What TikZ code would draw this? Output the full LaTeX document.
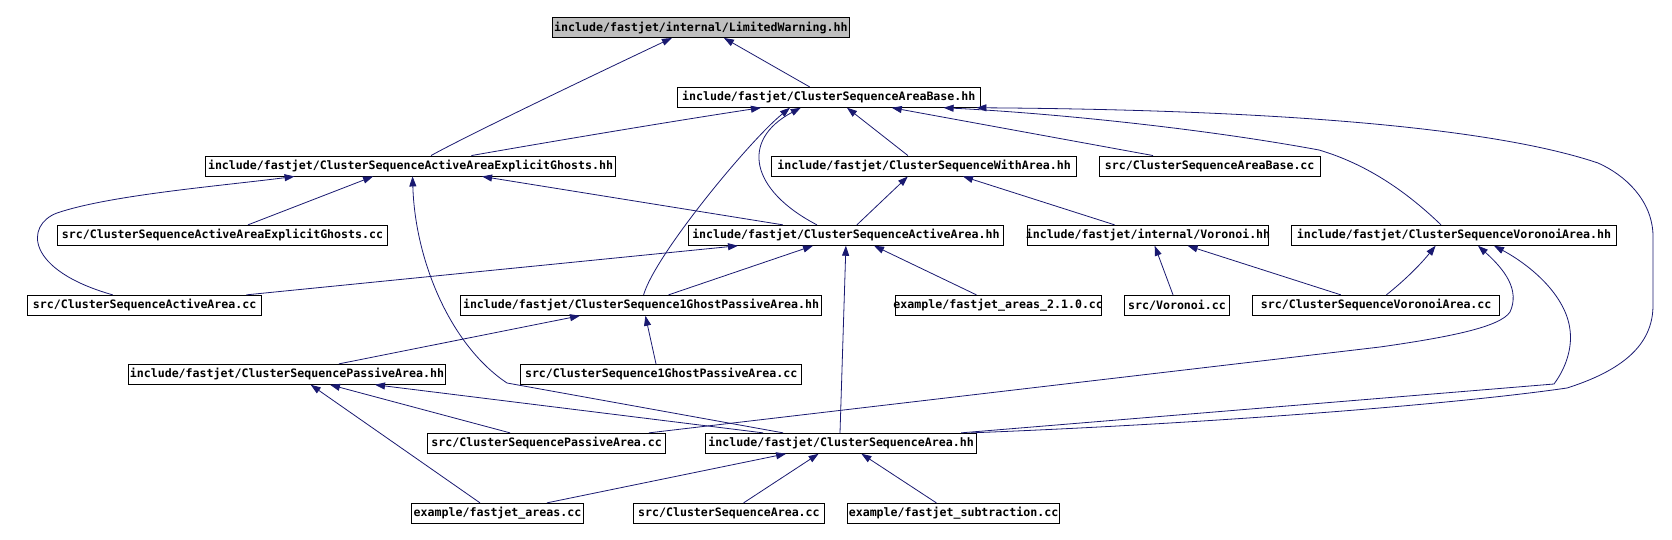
\documentclass[tikz,border=0pt]{standalone}
\usepackage{fontspec}
\newfontfamily\dmono{DejaVu Sans Mono}
\usetikzlibrary{arrows.meta}
\definecolor{edgec}{RGB}{25,25,112}
\definecolor{hlgray}{RGB}{191,191,191}
\newcommand{\overrun}[1]{\makebox[0pt]{#1}}
\begin{document}
\begin{tikzpicture}[x=1pt,y=-1pt,
  file/.style={draw=black, line width=0.9pt, fill=white, inner sep=0pt, minimum height=20pt,
    font=\dmono\bfseries\fontsize{11.6}{13}\selectfont, text=black},
  dep/.style={draw=edgec, line width=0.8pt, -{Triangle[length=10pt,width=7pt]}}]
\useasboundingbox (0,0) rectangle (1672,540);

% row 0/1
\node[file, fill=hlgray, minimum width=296.8pt] (lw) at (700.9,27.5) {include/fastjet/internal/LimitedWarning.hh};
\node[file, minimum width=302.5pt] (ab) at (828.75,97.3) {include/fastjet/ClusterSequenceAreaBase.hh};
% row 2
\node[file, minimum width=410.3pt] (eg) at (410.55,166) {\overrun{include/fastjet/ClusterSequenceActiveAreaExplicitGhosts.hh}};
\node[file, minimum width=305.4pt] (wa) at (924.1,166) {include/fastjet/ClusterSequenceWithArea.hh};
\node[file, minimum width=221.4pt] (abcc) at (1209.7,166) {src/ClusterSequenceAreaBase.cc};
% row 3
\node[file, minimum width=330pt] (egcc) at (222.5,235.3) {src/ClusterSequenceActiveAreaExplicitGhosts.cc};
\node[file, minimum width=315.4pt] (aa) at (845.9,235.3) {include/fastjet/ClusterSequenceActiveArea.hh};
\node[file, minimum width=241pt] (vor) at (1148,235.3) {\overrun{include/fastjet/internal/Voronoi.hh}};
\node[file, minimum width=325.1pt] (va) at (1454,235.3) {include/fastjet/ClusterSequenceVoronoiArea.hh};
% row 4
\node[file, minimum width=234.3pt] (aacc) at (144.65,305.3) {src/ClusterSequenceActiveArea.cc};
\node[file, minimum width=361.4pt] (gp) at (641.1,305.3) {include/fastjet/ClusterSequence1GhostPassiveArea.hh};
\node[file, minimum width=205.6pt] (a210) at (998.2,305.3) {\overrun{example/fastjet\_areas\_2.1.0.cc}};
\node[file, minimum width=105.1pt] (vorcc) at (1177,305.3) {src/Voronoi.cc};
\node[file, minimum width=247.4pt] (vacc) at (1376.2,305.3) {src/ClusterSequenceVoronoiArea.cc};
% row 5
\node[file, minimum width=317.5pt] (pa) at (287,374.3) {include/fastjet/ClusterSequencePassiveArea.hh};
\node[file, minimum width=281pt] (gpcc) at (661.2,374.3) {src/ClusterSequence1GhostPassiveArea.cc};
% row 6
\node[file, minimum width=238pt] (pacc) at (546.7,443.3) {src/ClusterSequencePassiveArea.cc};
\node[file, minimum width=271.4pt] (csa) at (841.1,443.3) {include/fastjet/ClusterSequenceArea.hh};
% row 7
\node[file, minimum width=172.2pt] (arcc) at (497.5,513.3) {example/fastjet\_areas.cc};
\node[file, minimum width=191.4pt] (csacc) at (728.9,513.3) {src/ClusterSequenceArea.cc};
\node[file, minimum width=212.1pt] (sub) at (953.55,513.3) {example/fastjet\_subtraction.cc};

% edges to LimitedWarning
\draw[dep] ([xshift=20.5pt]eg.north) .. controls (470,134) and (600,72) .. ([xshift=-29pt]lw.south);
\draw[dep] ([xshift=-19.2pt]ab.north) -- ([xshift=23pt]lw.south);
% edges to AreaBase.hh
\draw[dep] ([xshift=60.9pt]eg.north) .. controls (560,140) and (680,120) .. ([xshift=-67.8pt]ab.south);
\draw[dep] ([xshift=2.5pt]gp.north) .. controls (655,255) and (750,140) .. ([xshift=-38.75pt]ab.south);
\draw[dep] ([xshift=-29pt]aa.north) .. controls (750,190) and (740,140) .. ([xshift=-28pt]ab.south);
\draw[dep] ([xshift=-16.2pt]wa.north) -- ([xshift=18.25pt]ab.south);
\draw[dep] ([xshift=-56.7pt]abcc.north) -- ([xshift=63pt]ab.south);
\draw[dep] ([xshift=-13pt]va.north) .. controls (1410,195) and (1370,165) .. (1319,150)
  .. controls (1200,128) and (1050,113) .. ([xshift=114.85pt]ab.south);
\draw[dep] ([xshift=130pt]csa.north) .. controls (1200,424) and (1450,405) .. (1567,388)
  .. controls (1630,368) and (1653,340) .. (1653,305) -- (1653,235)
  .. controls (1652,200) and (1625,175) .. (1598,163)
  .. controls (1500,130) and (1300,110) .. ([xshift=-4pt]ab.south east);
% edges to ExplicitGhosts.hh
\draw[dep] ([xshift=-63pt]aa.north) -- ([xshift=71.5pt]eg.south);
\draw[dep] ([xshift=25.5pt]egcc.north) -- ([xshift=-37.5pt]eg.south);
\draw[dep] ([xshift=-32pt]aacc.north) .. controls (25,270) and (25,225) .. (57,213)
  .. controls (110,195) and (220,186) .. ([xshift=-116pt]eg.south);
\draw[dep] ([xshift=-58pt]csa.north) -- (507,383) .. controls (450,345) and (415,260) .. ([xshift=2pt]eg.south);
% edges to WithArea.hh
\draw[dep] ([xshift=11pt]aa.north) -- ([xshift=-16.2pt]wa.south);
\draw[dep] ([xshift=-33.4pt]vor.north) -- ([xshift=38.9pt]wa.south);
% edges to ActiveArea.hh
\draw[dep] ([xshift=101.75pt]aacc.north) -- ([xshift=-107.9pt]aa.south);
\draw[dep] ([xshift=27.5pt]gp.north) -- ([xshift=-32.9pt]aa.south);
\draw[dep] ([xshift=-21.8pt]a210.north) -- ([xshift=28.1pt]aa.south);
\draw[dep] ([xshift=-1.1pt]csa.north) -- (aa.south);
% edges to Voronoi.hh
\draw[dep] ([xshift=-4pt]vorcc.north) -- ([xshift=6.7pt]vor.south);
\draw[dep] ([xshift=-35.4pt]vacc.north) -- ([xshift=39.6pt]vor.south);
% edges to VoronoiArea.hh
\draw[dep] ([xshift=10.2pt]vacc.north) .. controls (1405,280) and (1420,265) .. ([xshift=-18.4pt]va.south);
\draw[dep] ([xshift=102.3pt]pacc.north) -- (1380,347) .. controls (1450,337) and (1500,327) .. (1510,312)
  .. controls (1520,290) and (1505,270) .. ([xshift=24pt]va.south);
\draw[dep] ([xshift=120pt]csa.north) -- (1554,384) .. controls (1568,365) and (1572,345) .. (1570,330)
  .. controls (1566,295) and (1530,265) .. ([xshift=40pt]va.south);
% edges to 1GhostPassiveArea.hh
\draw[dep] ([xshift=-5.2pt]gpcc.north) -- ([xshift=4.3pt]gp.south);
\draw[dep] ([xshift=52pt]pa.north) -- ([xshift=-61.1pt]gp.south);
% edges to PassiveArea.hh
\draw[dep] ([xshift=-78pt]csa.north) -- ([xshift=88pt]pa.south);
\draw[dep] ([xshift=-36.7pt]pacc.north) -- ([xshift=43pt]pa.south);
\draw[dep] ([xshift=-17.5pt]arcc.north) -- ([xshift=23.7pt]pa.south);
% edges to ClusterSequenceArea.hh
\draw[dep] ([xshift=14.7pt]csacc.north) -- ([xshift=-22.5pt]csa.south);
\draw[dep] ([xshift=49.5pt]arcc.north) -- ([xshift=-55pt]csa.south);
\draw[dep] ([xshift=-17.2pt]sub.north) -- ([xshift=20.3pt]csa.south);
\end{tikzpicture}
\end{document}
